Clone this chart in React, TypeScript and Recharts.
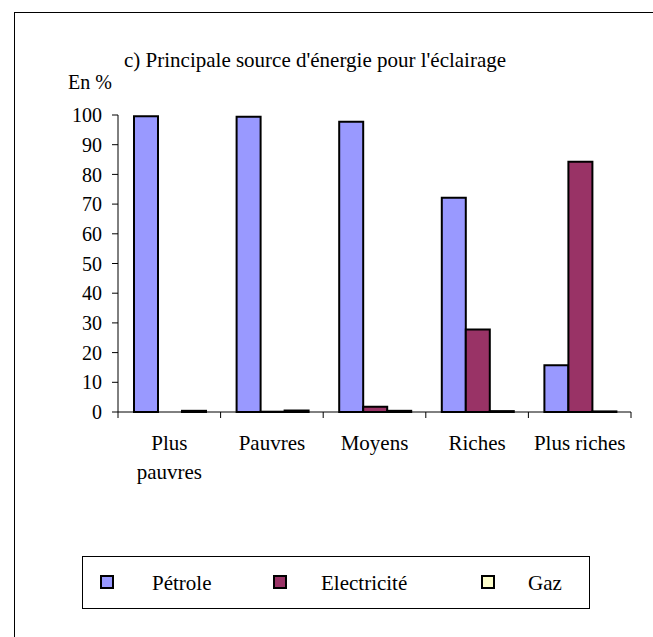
import React from "react";
import { Bar, BarChart, XAxis, YAxis } from "recharts";

const categories = ["Plus pauvres", "Pauvres", "Moyens", "Riches", "Plus riches"];
const tickLabels = [["Plus", "pauvres"], ["Pauvres"], ["Moyens"], ["Riches"], ["Plus riches"]];
const petrole = [99.6, 99.4, 97.7, 72.1, 15.7];
const electricite = [0, 0.1, 1.8, 27.8, 84.3];
const gaz = [0.4, 0.5, 0.4, 0.3, 0.2];
const yTicks = [0, 10, 20, 30, 40, 50, 60, 70, 80, 90, 100];

const series = [
  { key: "petrole", name: "Pétrole", color: "#9999ff" },
  { key: "electricite", name: "Electricité", color: "#993366" },
  { key: "gaz", name: "Gaz", color: "#ffffcc" },
];

const FONT = '"Liberation Serif", "Times New Roman", serif';
const W = 653;
const H = 637;
const PLOT_LEFT = 118;
const PLOT_RIGHT = 631;
const PLOT_TOP = 115;
const PLOT_BOTTOM = 412;
const BAND = (PLOT_RIGHT - PLOT_LEFT) / categories.length;

const data = categories.map((name, i) => ({
  name,
  petrole: petrole[i],
  electricite: electricite[i],
  gaz: gaz[i],
}));

function XTick(props: any) {
  const { x, index } = props;
  const lines = tickLabels[index] || [];
  const left = x - BAND / 2;
  return (
    <g>
      <line x1={left} x2={left} y1={PLOT_BOTTOM} y2={PLOT_BOTTOM + 6} stroke="#000" />
      {index === categories.length - 1 && (
        <line x1={x + BAND / 2} x2={x + BAND / 2} y1={PLOT_BOTTOM} y2={PLOT_BOTTOM + 6} stroke="#000" />
      )}
      {lines.map((t, i) => (
        <text key={i} x={x} y={PLOT_BOTTOM + 38 + i * 29} textAnchor="middle" fontFamily={FONT} fontSize={21} fill="#000">
          {t}
        </text>
      ))}
    </g>
  );
}

// legend item positions (marker left, text left)
const legendPos = [
  { m: 99, t: 151 },
  { m: 272, t: 320 },
  { m: 480, t: 527 },
];

export default function App() {
  return (
    <div style={{ position: "absolute", left: 0, top: 0, width: W, height: H, overflow: "hidden", background: "#fff", fontFamily: FONT }}>
      <div style={{ position: "absolute", left: 14, top: 12, width: 700, height: 700, border: "1px solid #000" }} />
      <div style={{ position: "absolute", left: 124, top: 48, fontSize: 21, whiteSpace: "nowrap", lineHeight: "24px" }}>
        c) Principale source d'énergie pour l'éclairage
      </div>
      <div style={{ position: "absolute", left: 68, top: 70, fontSize: 20, whiteSpace: "nowrap", lineHeight: "24px" }}>
        En %
      </div>
      <div style={{ position: "absolute", left: 0, top: 0 }}>
        <BarChart
          width={W}
          height={H}
          data={data}
          barCategoryGap={16}
          barGap={0}
          margin={{ top: PLOT_TOP, right: W - PLOT_RIGHT, bottom: H - PLOT_BOTTOM - 60, left: 0 }}
        >
          <XAxis
            xAxisId="top"
            orientation="top"
            dataKey="name"
            height={0}
            tick={false}
            tickLine={false}
            axisLine={{ stroke: "#888", strokeWidth: 2 }}
          />
          <YAxis
            yAxisId="right"
            orientation="right"
            width={0}
            domain={[0, 100]}
            tick={false}
            tickLine={false}
            axisLine={{ stroke: "#888", strokeWidth: 2 }}
          />
          <XAxis
            dataKey="name"
            height={60}
            interval={0}
            tickLine={false}
            tick={<XTick />}
            axisLine={{ stroke: "#000" }}
          />
          <YAxis
            width={PLOT_LEFT}
            domain={[0, 100]}
            ticks={yTicks}
            interval={0}
            tickSize={6}
            tickMargin={10}
            tickLine={{ stroke: "#000" }}
            axisLine={{ stroke: "#000" }}
            tick={{ fill: "#000", fontSize: 20, fontFamily: FONT }}
          />
          {series.map((s) => (
            <Bar
              key={s.key}
              dataKey={s.key}
              name={s.name}
              fill={s.color}
              stroke="#000"
              strokeWidth={2}
              isAnimationActive={false}
            />
          ))}
        </BarChart>
      </div>
      <div style={{ position: "absolute", left: 82, top: 556, width: 508, height: 53, border: "1px solid #000", boxSizing: "border-box" }}>
        {series.map((s, i) => (
          <React.Fragment key={s.key}>
            <div
              style={{
                position: "absolute",
                left: legendPos[i].m - 82,
                top: 18,
                width: 14,
                height: 14,
                boxSizing: "border-box",
                background: s.color,
                border: "2px solid #000",
              }}
            />
            <div style={{ position: "absolute", left: legendPos[i].t - 82, top: 14, fontSize: 21, lineHeight: "24px", whiteSpace: "nowrap" }}>
              {s.name}
            </div>
          </React.Fragment>
        ))}
      </div>
    </div>
  );
}
